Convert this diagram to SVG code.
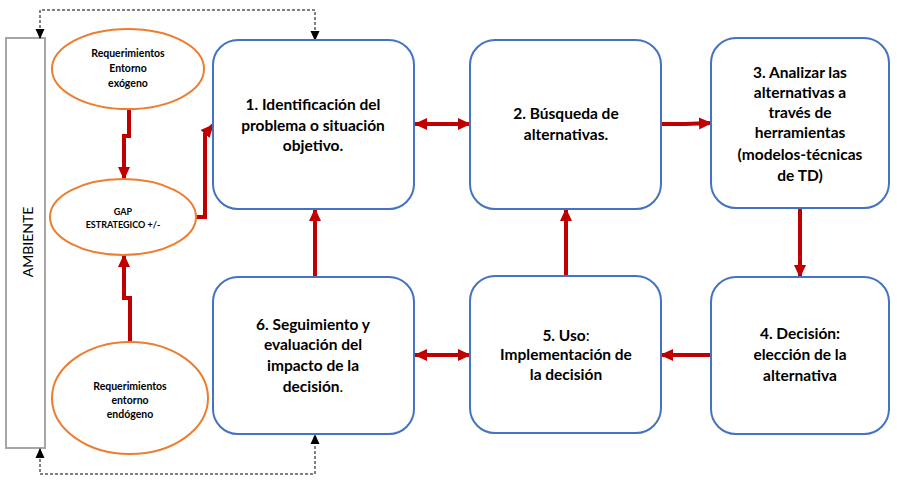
<svg xmlns="http://www.w3.org/2000/svg" width="897" height="480" viewBox="0 0 897 480">
<style>
.box{fill:#fff;stroke:#4472c4;stroke-width:2}
.ell{fill:#fff;stroke:#ed7d31;stroke-width:2}
.bt{font-family:Lato,"Liberation Sans",sans-serif;font-weight:bold;font-size:15.5px;fill:#000;text-anchor:middle}
.et{font-family:Lato,"Liberation Sans",sans-serif;font-weight:bold;font-size:10.5px;fill:#000;text-anchor:middle}
.red{fill:none;stroke:#c00000;stroke-width:4}
.dash{fill:none;stroke:#000;stroke-width:1;stroke-dasharray:3 2}
</style>
<defs>
<marker id="ra" markerUnits="userSpaceOnUse" markerWidth="14" markerHeight="14" refX="12" refY="7" orient="auto-start-reverse">
<path d="M0,1 L13,7 L0,13 z" fill="#c00000"/>
</marker>
<marker id="ka" markerUnits="userSpaceOnUse" markerWidth="10" markerHeight="10" refX="9" refY="5" orient="auto-start-reverse">
<path d="M0,0.5 L10,5 L0,9.5 z" fill="#000"/>
</marker>
</defs>
<rect width="897" height="480" fill="#fff"/>

<g id="ambiente">
<rect x="6" y="38" width="39" height="410" fill="#fff" stroke="#a6a6a6" stroke-width="2"/>
<text x="0" y="0" transform="translate(33,242) rotate(-90)" font-family="Lato,'Liberation Sans',sans-serif" font-size="14" text-anchor="middle" fill="#000">AMBIENTE</text>
</g>

<g id="connectors">
<path class="dash" d="M40,38 L40,10 L315,10 L315,40" marker-start="url(#ka)" marker-end="url(#ka)"/>
<path class="dash" d="M40,449 L40,474 L315,474 L315,435" marker-start="url(#ka)" marker-end="url(#ka)"/>
<path class="red" d="M129,109 L129,136 L124,136 L124,179" marker-end="url(#ra)"/>
<path class="red" d="M196,217 L205,217 L205,134 L213,125" marker-end="url(#ra)"/>
<path class="red" d="M130,342 L130,298 L124,298 L124,255" marker-end="url(#ra)"/>
<path class="red" d="M315,277 L315,209" marker-end="url(#ra)"/>
<path class="red" d="M415,124 L470,124" marker-start="url(#ra)" marker-end="url(#ra)"/>
<path class="red" d="M661,124 L685,124 L711,123" marker-end="url(#ra)"/>
<path class="red" d="M800,208 L800,277" marker-end="url(#ra)"/>
<path class="red" d="M711,355 L685,355 L661,355" marker-end="url(#ra)"/>
<path class="red" d="M415,355 L470,355" marker-start="url(#ra)" marker-end="url(#ra)"/>
<path class="red" d="M566,276 L566,209" marker-end="url(#ra)"/>
</g>

<g id="e1">
<ellipse class="ell" cx="128" cy="69" rx="76" ry="40"/>
<text class="et" x="128" y="57">Requerimientos</text>
<text class="et" x="128" y="72">Entorno</text>
<text class="et" x="128" y="87">exógeno</text>
</g>
<g id="e2">
<ellipse class="ell" cx="123" cy="217" rx="73" ry="38"/>
<text class="et" x="123" y="215" style="font-size:9px">GAP</text>
<text class="et" x="123" y="228" style="font-size:9px">ESTRATEGICO +/-</text>
</g>
<g id="e3">
<ellipse class="ell" cx="130" cy="398" rx="78" ry="56"/>
<text class="et" x="130" y="390">Requerimientos</text>
<text class="et" x="130" y="404">entorno</text>
<text class="et" x="130" y="418">endógeno</text>
</g>

<g id="n1">
<rect class="box" x="213" y="40" width="201" height="169" rx="25"/>
<text class="bt" x="313" y="110">1. Identificación del</text>
<text class="bt" x="313" y="131">problema o situación</text>
<text class="bt" x="313" y="151">objetivo.</text>
</g>
<g id="n2">
<rect class="box" x="470" y="40" width="191" height="169" rx="25"/>
<text class="bt" x="566" y="119">2. Búsqueda de</text>
<text class="bt" x="566" y="140">alternativas.</text>
</g>
<g id="n3">
<rect class="box" x="711" y="38" width="178" height="170" rx="25"/>
<text class="bt" x="800" y="78">3. Analizar las</text>
<text class="bt" x="800" y="98">alternativas a</text>
<text class="bt" x="800" y="118">través de</text>
<text class="bt" x="800" y="138">herramientas</text>
<text class="bt" x="800" y="160">(modelos-técnicas</text>
<text class="bt" x="800" y="181">de TD)</text>
</g>
<g id="n4">
<rect class="box" x="711" y="277" width="178" height="157" rx="25"/>
<text class="bt" x="800" y="339">4. Decisión:</text>
<text class="bt" x="800" y="360">elección de la</text>
<text class="bt" x="800" y="381">alternativa</text>
</g>
<g id="n5">
<rect class="box" x="470" y="276" width="191" height="157" rx="25"/>
<text class="bt" x="566" y="341">5. Uso<tspan font-weight="normal">:</tspan></text>
<text class="bt" x="566" y="360">Implementación de</text>
<text class="bt" x="566" y="380">la decisión</text>
</g>
<g id="n6">
<rect class="box" x="213" y="277" width="201" height="157" rx="25"/>
<text class="bt" x="313" y="330">6. Seguimiento y</text>
<text class="bt" x="313" y="350">evaluación del</text>
<text class="bt" x="313" y="371">impacto de la</text>
<text class="bt" x="313" y="392">decisión<tspan font-weight="normal">.</tspan></text>
</g>
</svg>
